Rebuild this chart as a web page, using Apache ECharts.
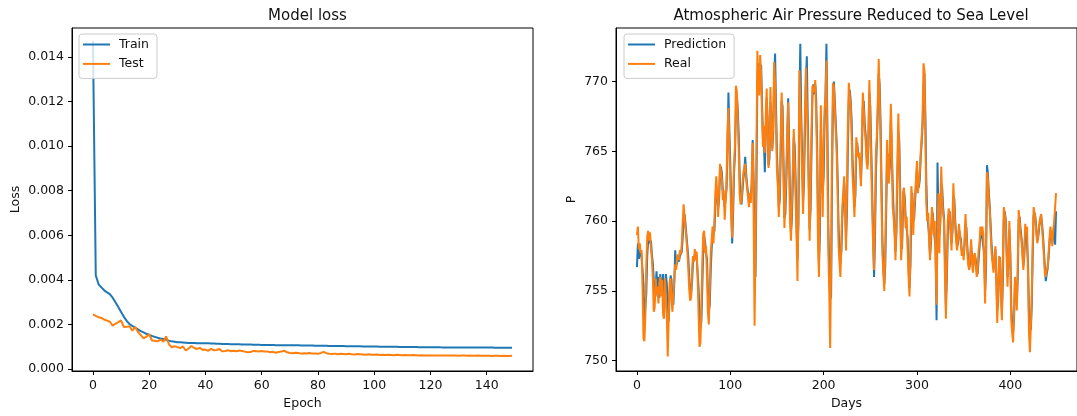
<!DOCTYPE html>
<html>
<head>
<meta charset="utf-8">
<script src="https://cdn.jsdelivr.net/npm/echarts@6/dist/echarts.min.js"></script>
<style>
  html, body { margin: 0; padding: 0; background: #fff; }
  #chart { width: 1077px; height: 416px; }
</style>
</head>
<body>
<div id="chart"></div>
<script>
// ---- Model loss per epoch ----
const trainLoss = [
  0.0147, 0.0042, 0.0038, 0.00366, 0.00353, 0.00344, 0.00336, 0.0032, 0.00299, 0.00278,
  0.00256, 0.00234, 0.00216, 0.00201, 0.00193, 0.00186, 0.00178, 0.0017, 0.00164, 0.00158,
  0.00153, 0.00148, 0.00144, 0.0014, 0.00137, 0.00135, 0.00131, 0.00127, 0.00124, 0.00122,
  0.0012, 0.0012, 0.00119, 0.00118, 0.00117, 0.00117, 0.00117, 0.00116, 0.00116, 0.00115,
  0.00115, 0.00115, 0.00114, 0.00114, 0.00113, 0.00113, 0.00112, 0.00112, 0.00112, 0.00111,
  0.00111, 0.00111, 0.00111, 0.0011, 0.0011, 0.0011, 0.0011, 0.00109, 0.00109, 0.00109,
  0.00108, 0.00108, 0.00108, 0.00108, 0.00108, 0.00107, 0.00107, 0.00107, 0.00107, 0.00106,
  0.00106, 0.00106, 0.00106, 0.00106, 0.00105, 0.00105, 0.00105, 0.00105, 0.00105, 0.00104,
  0.00104, 0.00104, 0.00104, 0.00104, 0.00103, 0.00103, 0.00103, 0.00103, 0.00103, 0.00103,
  0.00102, 0.00102, 0.00102, 0.00102, 0.00102, 0.00102, 0.00101, 0.00101, 0.00101, 0.00101,
  0.00101, 0.00101, 0.001, 0.001, 0.001, 0.001, 0.001, 0.001, 0.001, 0.00099,
  0.00099, 0.00099, 0.00099, 0.00099, 0.00099, 0.00099, 0.00098, 0.00098, 0.00098, 0.00098,
  0.00098, 0.00098, 0.00098, 0.00098, 0.00097, 0.00097, 0.00097, 0.00097, 0.00097, 0.00097,
  0.00097, 0.00097, 0.00097, 0.00096, 0.00096, 0.00096, 0.00096, 0.00096, 0.00096, 0.00096,
  0.00096, 0.00096, 0.00096, 0.00095, 0.00095, 0.00095, 0.00095, 0.00095, 0.00095, 0.00095
];
const testLoss = [
  0.00245, 0.00238, 0.00232, 0.00229, 0.00222, 0.00217, 0.00212, 0.00195, 0.00203, 0.0021,
  0.00218, 0.00188, 0.00189, 0.00192, 0.00172, 0.00188, 0.00166, 0.00152, 0.00137, 0.00145,
  0.00156, 0.00128, 0.00127, 0.00124, 0.00132, 0.00122, 0.00146, 0.00112, 0.00097, 0.00102,
  0.00098, 0.00094, 0.00101, 0.00083, 0.00092, 0.00103, 0.00094, 0.0009, 0.00095, 0.00086,
  0.00087, 0.00082, 0.0009, 0.00084, 0.00085, 0.0009, 0.00079, 0.00081, 0.00084, 0.0008,
  0.00082, 0.0008, 0.00083, 0.00081, 0.00078, 0.00075, 0.00076, 0.00081, 0.0008, 0.00079,
  0.00081, 0.00078, 0.00079, 0.00075, 0.00077, 0.00073, 0.00076, 0.00078, 0.00082, 0.00075,
  0.00072, 0.00071, 0.00073, 0.00072, 0.00069, 0.00071, 0.0007, 0.00072, 0.00069, 0.0007,
  0.00068, 0.00072, 0.00077, 0.00071, 0.00068, 0.00067, 0.00069, 0.00066, 0.00068, 0.00067,
  0.00066, 0.00068, 0.00066, 0.00065, 0.00067, 0.00066, 0.00065, 0.00064, 0.00066, 0.00064,
  0.00064, 0.00065, 0.00063, 0.00064, 0.00063, 0.00064, 0.00063, 0.00062, 0.00064, 0.00063,
  0.00062, 0.00063, 0.00062, 0.00062, 0.00063, 0.00062, 0.00061, 0.00062, 0.00061, 0.00061,
  0.0006, 0.00061, 0.00061, 0.0006, 0.00061, 0.0006, 0.0006, 0.00061, 0.0006, 0.0006,
  0.00059, 0.0006, 0.0006, 0.00059, 0.0006, 0.00059, 0.00059, 0.0006, 0.00059, 0.00059,
  0.00059, 0.00059, 0.00058, 0.00059, 0.00059, 0.00058, 0.00059, 0.00058, 0.00058, 0.00059
];
const epochTicks = [0, 20, 40, 60, 80, 100, 120, 140];
const lossTicks = [0, 0.002, 0.004, 0.006, 0.008, 0.010, 0.012, 0.014];

// ---- Daily sea-level pressure: real values and model prediction ----
const realP = [
  759.0, 759.6, 758.0, 758.4, 757.7, 757.9, 755.2, 751.6, 751.4, 753.2,
  756.8, 758.9, 759.3, 758.6, 759.2, 758.0, 757.3, 756.0, 753.5, 753.8,
  755.9, 754.8, 755.3, 754.1, 755.5, 756.0, 754.6, 755.8, 753.3, 753.0,
  755.9, 756.0, 753.2, 750.3, 753.0, 755.6, 755.9, 754.4, 753.5, 754.8,
  755.8, 756.9, 756.5, 757.4, 757.6, 757.2, 757.9, 757.6, 758.3, 759.9,
  761.2, 760.3, 759.5, 758.7, 757.8, 756.6, 755.1, 754.3, 754.5, 756.4,
  757.5, 757.1, 758.0, 757.2, 757.8, 756.0, 753.4, 751.0, 751.3, 753.9,
  756.9, 759.1, 759.3, 757.7, 758.2, 756.1, 753.5, 752.6, 755.1, 757.7,
  758.6, 759.6, 758.4, 760.0, 762.0, 763.2, 761.8, 760.3, 762.3, 764.1,
  764.2, 763.0, 761.5, 762.2, 760.1, 761.4, 763.0, 766.4, 768.1, 765.3,
  763.0, 760.2, 758.8, 761.5, 764.0, 765.5, 769.7, 769.3, 767.3, 765.2,
  762.0, 761.2, 761.5, 762.6, 763.5, 763.8, 764.1, 763.0, 762.3, 761.8,
  761.0, 762.0, 761.3, 763.2, 765.6, 760.5, 752.5, 758.0, 765.0, 772.2,
  770.0, 769.0, 771.9, 770.5, 767.6, 765.3, 766.8, 764.9, 767.5, 769.5,
  766.0, 763.8, 765.7, 769.6, 766.3, 765.0, 767.2, 771.4, 770.0, 766.8,
  763.6, 762.4, 760.3, 762.6, 765.9, 769.2, 767.3, 763.0, 759.5, 761.8,
  763.5, 766.5, 768.5, 764.0, 760.1, 758.6, 761.3, 763.8, 766.6, 764.2,
  761.7, 758.9, 755.7, 762.0, 770.8, 768.6, 766.4, 763.2, 760.5, 764.4,
  767.8, 771.0, 768.4, 766.0, 762.0, 758.6, 762.4, 766.5, 769.7, 769.5,
  769.2, 770.1, 767.5, 764.4, 758.3, 756.0, 761.5, 768.3, 764.5, 760.3,
  765.4, 768.0, 768.8, 771.5, 764.0, 758.0, 755.0, 750.9, 757.0, 765.5,
  769.9, 769.6, 768.0, 766.5, 764.9, 762.0, 758.2, 757.0, 756.0, 758.5,
  761.0, 762.0, 763.2, 760.5, 757.9, 762.5, 767.0, 769.9, 768.9, 768.2,
  766.0, 763.2, 762.0, 760.3, 762.7, 766.0, 765.3, 764.6, 764.9, 763.8,
  762.5, 766.0, 769.2, 768.0, 766.5, 765.8, 764.2, 763.7, 766.5, 770.1,
  767.0, 764.0, 761.0, 758.3, 756.5, 760.2, 765.0, 766.0, 768.5, 771.6,
  769.0, 765.8, 761.5, 757.7, 756.2, 755.0, 758.0, 762.0, 765.8, 764.0,
  762.7, 765.0, 768.4, 766.0, 761.0, 760.3, 759.0, 757.2, 760.5, 764.0,
  767.7, 765.0, 761.0, 757.2, 758.5, 762.0, 762.4, 761.0, 759.5, 760.3,
  758.0, 756.0, 754.6, 758.0, 762.5, 761.5, 759.0, 760.8, 762.0, 763.0,
  764.3, 762.0, 762.0, 763.5, 764.9, 766.0, 767.3, 771.3, 770.8, 766.0,
  761.3, 760.0, 760.6, 758.5, 757.2, 759.0, 761.0, 760.3, 759.0, 760.0,
  757.0, 754.0, 759.5, 762.0, 757.7, 761.0, 763.9, 761.7, 760.5, 760.0,
  756.0, 753.0, 757.0, 760.0, 760.9, 760.5, 759.2, 757.9, 760.0, 762.7,
  761.0, 759.6, 758.5, 757.9, 758.8, 759.8, 759.0, 758.4, 757.5, 758.0,
  757.2, 758.8, 760.5, 759.0, 757.7, 756.8, 756.5, 757.5, 758.7, 757.0,
  756.3, 757.5, 757.7, 756.9, 756.0, 756.4, 757.9, 758.4, 759.6, 759.0,
  759.6, 759.1, 757.0, 754.1, 758.5, 763.5, 763.0, 761.5, 760.8, 759.0,
  757.7, 757.0, 756.3, 757.5, 758.2, 755.5, 752.7, 755.0, 757.5, 757.2,
  754.5, 752.9, 757.0, 761.0, 760.5, 760.0, 757.5, 755.3, 757.5, 760.0,
  757.0, 752.9, 752.0, 751.3, 753.5, 756.0, 755.0, 753.6, 757.0, 760.8,
  760.0, 759.0, 758.6, 757.5, 756.5, 758.0, 759.8, 759.2, 759.6, 756.0,
  752.0, 750.6, 752.5, 754.8, 758.5, 761.0, 760.5, 760.0, 759.0, 758.4,
  759.2, 759.8, 760.2, 760.5, 759.5, 758.6, 757.5, 756.3, 756.0, 756.5,
  756.7, 757.7, 758.8, 759.6, 759.0, 758.2, 759.3, 760.0, 761.0, 762.0
];
const predictedP = [
  756.7, 758.4, 757.3, 757.6, 757.9, 757.4, 757.5, 755.5, 752.9, 753.0,
  754.8, 757.5, 758.6, 758.9, 758.4, 758.6, 757.6, 757.0, 755.8, 754.3,
  754.4, 756.4, 754.6, 756.0, 754.5, 756.2, 755.4, 754.9, 756.2, 754.0,
  754.4, 756.2, 755.5, 754.0, 752.8, 754.8, 756.1, 755.8, 754.3, 754.0,
  755.6, 757.9, 756.8, 757.0, 757.3, 757.1, 757.5, 757.6, 757.8, 758.8,
  760.1, 760.5, 759.8, 759.0, 758.2, 757.4, 756.0, 755.0, 754.8, 755.6,
  757.0, 757.3, 757.4, 757.8, 757.4, 757.3, 755.2, 753.2, 752.3, 752.8,
  755.3, 758.0, 758.9, 758.5, 757.7, 757.3, 755.0, 753.6, 754.0, 756.4,
  758.0, 758.9, 759.1, 759.3, 761.2, 762.5, 762.6, 760.9, 761.6, 763.4,
  763.9, 763.4, 762.2, 761.7, 761.0, 760.9, 762.3, 765.0, 769.2, 766.5,
  764.1, 761.3, 758.4, 760.5, 763.4, 764.8, 768.0, 769.0, 768.0, 766.2,
  763.4, 761.5, 761.2, 762.1, 763.0, 763.6, 764.6, 763.4, 762.6, 762.0,
  761.3, 761.6, 761.6, 762.5, 765.8, 763.0, 757.5, 756.0, 762.5, 770.0,
  771.3, 769.3, 770.3, 771.2, 768.5, 766.0, 765.8, 763.5, 766.5, 768.8,
  767.3, 764.0, 764.5, 768.5, 767.6, 765.2, 766.3, 770.2, 772.0, 768.2,
  764.8, 763.0, 761.0, 761.5, 764.8, 768.6, 768.2, 764.3, 760.2, 760.5,
  762.8, 765.4, 768.8, 765.8, 761.5, 759.2, 760.2, 762.8, 766.0, 765.4,
  763.0, 759.8, 757.3, 759.8, 768.5, 772.7, 767.5, 764.6, 761.4, 762.8,
  766.6, 770.0, 771.8, 767.2, 763.4, 759.4, 760.8, 765.0, 768.9, 769.8,
  769.1, 769.8, 768.8, 765.6, 760.2, 757.0, 759.0, 766.5, 766.6, 762.0,
  763.2, 767.0, 769.0, 772.7, 767.0, 759.8, 756.5, 754.4, 754.6, 763.0,
  768.4, 770.0, 768.6, 767.0, 765.6, 763.2, 759.6, 757.8, 757.0, 757.8,
  760.2, 761.6, 762.8, 761.6, 758.8, 760.6, 765.4, 768.6, 769.4, 768.6,
  767.2, 764.4, 762.6, 761.0, 761.8, 765.0, 765.6, 764.8, 764.7, 764.4,
  763.0, 764.8, 768.2, 768.6, 767.0, 766.2, 764.8, 764.0, 765.4, 769.2,
  768.2, 765.2, 762.2, 759.2, 756.0, 758.6, 763.4, 765.6, 767.8, 770.6,
  769.8, 767.0, 762.8, 758.6, 756.6, 755.5, 756.8, 760.6, 764.6, 764.8,
  763.2, 764.0, 767.2, 767.2, 762.6, 760.6, 759.6, 757.8, 759.2, 762.8,
  766.4, 765.8, 762.2, 758.2, 758.0, 760.8, 762.2, 761.6, 760.0, 760.0,
  758.8, 756.8, 755.2, 756.8, 760.8, 762.0, 760.0, 760.2, 761.5, 762.6,
  763.8, 762.8, 762.4, 763.0, 764.5, 765.6, 766.8, 769.5, 770.6, 767.6,
  762.8, 760.5, 760.4, 759.0, 757.6, 758.4, 760.3, 760.6, 759.5, 759.6,
  758.0, 752.9, 764.2, 760.5, 759.0, 759.8, 762.6, 762.4, 761.0, 760.2,
  757.2, 754.0, 755.8, 759.0, 760.4, 760.7, 759.6, 758.4, 759.2, 761.8,
  761.6, 760.0, 758.9, 758.2, 758.4, 759.4, 759.3, 758.7, 757.9, 757.9,
  757.5, 758.3, 759.8, 759.5, 758.1, 757.1, 756.6, 757.0, 758.2, 757.5,
  756.7, 757.0, 757.6, 757.2, 756.4, 756.2, 757.2, 758.1, 759.1, 759.3,
  759.4, 759.2, 757.7, 755.0, 756.5, 764.0, 763.4, 762.0, 761.0, 759.6,
  758.2, 757.3, 756.6, 757.0, 758.0, 756.3, 753.6, 754.2, 756.8, 757.4,
  755.3, 753.5, 755.6, 760.1, 760.7, 760.2, 758.2, 756.0, 756.8, 759.4,
  757.8, 754.0, 752.6, 752.0, 753.0, 755.5, 755.6, 754.2, 756.0, 760.1,
  760.3, 759.4, 758.8, 757.9, 756.8, 757.5, 759.3, 759.5, 759.5, 757.0,
  753.4, 752.5, 752.2, 754.0, 757.6, 760.4, 760.6, 760.2, 759.3, 758.6,
  758.9, 759.6, 760.0, 760.4, 759.8, 759.0, 757.9, 756.7, 755.7, 756.2,
  756.6, 757.4, 758.4, 759.3, 759.2, 758.4, 759.0, 759.8, 758.3, 760.7
];
const dayTicks = [0, 100, 200, 300, 400];
const pressureTicks = [750, 755, 760, 765, 770];

const BLUE = '#1f77b4';
const ORANGE = '#ff7f0e';
const FONT = 'DejaVu Sans';
const TXT = '#111';

const toPairs = arr => arr.map((v, i) => [i, v]);

// Value axis pinned to the grid edge, with ticks and labels only at the given values
function valueAxis(gridIndex, min, max, name, nameGap, ticks, formatter) {
  return {
    type: 'value',
    gridIndex: gridIndex,
    min: min,
    max: max,
    name: name,
    nameGap: nameGap,
    nameLocation: 'middle',
    nameTextStyle: { color: TXT, fontFamily: FONT, fontSize: 12.5 },
    splitLine: { show: false },
    axisLine: { show: true, onZero: false, lineStyle: { color: '#000', width: 1 } },
    axisTick: { show: true, inside: false, length: 4, customValues: ticks, lineStyle: { color: '#000', width: 1 } },
    axisLabel: { color: TXT, fontFamily: FONT, fontSize: 12.5, margin: 8, customValues: ticks,
      formatter: formatter }
  };
}

function legendBox(left, names) {
  return {
    orient: 'vertical',
    left: left,
    top: 34,
    data: names,
    icon: 'rect',
    itemWidth: 27,
    itemHeight: 2,
    itemGap: 4.4,
    padding: [3, 8, 7, 4],
    borderColor: '#cccccc',
    borderWidth: 1,
    borderRadius: 3,
    backgroundColor: 'rgba(255,255,255,0.8)',
    textStyle: { color: TXT, fontFamily: FONT, fontSize: 12.5, lineHeight: 15, padding: [0, 0, 0, 4] },
    selectedMode: false
  };
}

const chart = echarts.init(document.getElementById('chart'), null, { renderer: 'canvas' });

chart.setOption({
  animation: false,
  backgroundColor: '#ffffff',
  title: [
    { text: 'Model loss', left: 302.5, top: 4, textAlign: 'center',
      textStyle: { color: TXT, fontFamily: FONT, fontSize: 15, fontWeight: 'normal' } },
    { text: 'Atmospheric Air Pressure Reduced to Sea Level', left: 846, top: 4, textAlign: 'center',
      textStyle: { color: TXT, fontFamily: FONT, fontSize: 15, fontWeight: 'normal' } }
  ],
  grid: [
    { left: 72, top: 28, width: 461, height: 343, show: true, borderColor: '#000', borderWidth: 1, backgroundColor: 'transparent' },
    { left: 616, top: 28, width: 461, height: 343, show: true, borderColor: '#000', borderWidth: 1, backgroundColor: 'transparent' }
  ],
  legend: [
    legendBox(79, ['Train', 'Test']),
    legendBox(624, ['Prediction', 'Real'])
  ],
  xAxis: [
    valueAxis(0, -7.45, 156.45, 'Epoch', 25, epochTicks),
    valueAxis(1, -22.45, 471.45, 'Days', 25, dayTicks)
  ],
  yAxis: [
    valueAxis(0, -0.00009, 0.0153, 'Loss', 50, lossTicks, v => v.toFixed(3)),
    valueAxis(1, 749.26, 773.83, 'P', 38, pressureTicks)
  ],
  series: [
    { name: 'Train', type: 'line', xAxisIndex: 0, yAxisIndex: 0, data: toPairs(trainLoss),
      showSymbol: false, symbol: 'none', lineStyle: { color: BLUE, width: 2 }, itemStyle: { color: BLUE } },
    { name: 'Test', type: 'line', xAxisIndex: 0, yAxisIndex: 0, data: toPairs(testLoss),
      showSymbol: false, symbol: 'none', lineStyle: { color: ORANGE, width: 2 }, itemStyle: { color: ORANGE } },
    { name: 'Prediction', type: 'line', xAxisIndex: 1, yAxisIndex: 1, data: toPairs(predictedP),
      showSymbol: false, symbol: 'none', lineStyle: { color: BLUE, width: 2 }, itemStyle: { color: BLUE } },
    { name: 'Real', type: 'line', xAxisIndex: 1, yAxisIndex: 1, data: toPairs(realP),
      showSymbol: false, symbol: 'none', lineStyle: { color: ORANGE, width: 2 }, itemStyle: { color: ORANGE } }
  ]
});
</script>
</body>
</html>
